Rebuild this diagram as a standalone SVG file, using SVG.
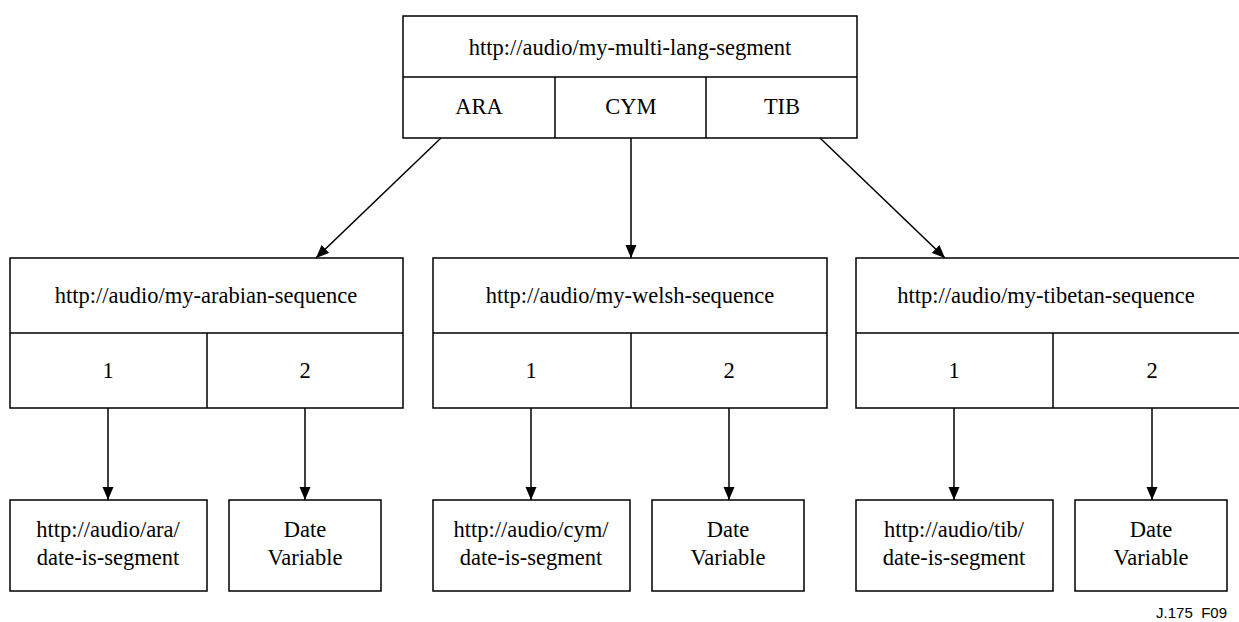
<svg xmlns="http://www.w3.org/2000/svg" width="1239" height="622" viewBox="0 0 1239 622">
<style>
.b{fill:#fff;stroke:#000;stroke-width:1.5}
.l{fill:none;stroke:#000;stroke-width:1.5}
text{font-family:"Liberation Serif","Times New Roman",serif;font-size:22.5px;fill:#000;text-anchor:middle}
.c{stroke:#000;stroke-width:1.5;fill:none;marker-end:url(#ah)}
</style>
<defs>
<marker id="ah" markerWidth="13" markerHeight="12" viewBox="0 0 13 12" refX="13" refY="6" orient="auto" markerUnits="userSpaceOnUse">
<path d="M0,0.5 L13,6 L0,11.5 Z" fill="#000"/>
</marker>
</defs>
<g id="top">
<rect class="b" x="403" y="16" width="454" height="122"/>
<path class="l" d="M403,77H857M555,77V138M706,77V138"/>
<text x="630" y="55">http://audio/my-multi-lang-segment</text>
<text x="479" y="114">ARA</text>
<text x="631" y="114">CYM</text>
<text x="782" y="114">TIB</text>
</g>
<g id="arabian">
<rect class="b" x="10" y="258" width="393" height="150"/>
<path class="l" d="M10,333H403M207,333V408"/>
<text x="206" y="303">http://audio/my-arabian-sequence</text>
<text x="108" y="378">1</text>
<text x="305" y="378">2</text>
</g>
<g id="welsh">
<rect class="b" x="433" y="258" width="394" height="150"/>
<path class="l" d="M433,333H827M631,333V408"/>
<text x="630" y="303">http://audio/my-welsh-sequence</text>
<text x="531" y="378">1</text>
<text x="729" y="378">2</text>
</g>
<g id="tibetan">
<rect class="b" x="856" y="258" width="393" height="150"/>
<path class="l" d="M856,333H1249M1053,333V408"/>
<text x="1046" y="303">http://audio/my-tibetan-sequence</text>
<text x="954" y="378">1</text>
<text x="1152" y="378">2</text>
</g>
<g id="ara-seg">
<rect class="b" x="10" y="500" width="197" height="91"/>
<text x="108" y="537">http://audio/ara/</text>
<text x="108" y="565">date-is-segment</text>
</g>
<g id="ara-date">
<rect class="b" x="229" y="500" width="152" height="91"/>
<text x="305" y="537">Date</text>
<text x="305" y="565">Variable</text>
</g>
<g id="cym-seg">
<rect class="b" x="433" y="500" width="197" height="91"/>
<text x="531" y="537">http://audio/cym/</text>
<text x="531" y="565">date-is-segment</text>
</g>
<g id="cym-date">
<rect class="b" x="652" y="500" width="152" height="91"/>
<text x="728" y="537">Date</text>
<text x="728" y="565">Variable</text>
</g>
<g id="tib-seg">
<rect class="b" x="856" y="500" width="197" height="91"/>
<text x="954" y="537">http://audio/tib/</text>
<text x="954" y="565">date-is-segment</text>
</g>
<g id="tib-date">
<rect class="b" x="1075" y="500" width="152" height="91"/>
<text x="1151" y="537">Date</text>
<text x="1151" y="565">Variable</text>
</g>
<g id="connectors">
<line class="c" x1="441" y1="138" x2="316" y2="258"/>
<line class="c" x1="631" y1="138" x2="631" y2="258"/>
<line class="c" x1="820" y1="138" x2="945" y2="258"/>
<line class="c" x1="108" y1="408" x2="108" y2="500"/>
<line class="c" x1="305" y1="408" x2="305" y2="500"/>
<line class="c" x1="531" y1="408" x2="531" y2="500"/>
<line class="c" x1="729" y1="408" x2="729" y2="500"/>
<line class="c" x1="954" y1="408" x2="954" y2="500"/>
<line class="c" x1="1152" y1="408" x2="1152" y2="500"/>
</g>
<text x="1227" y="618" xml:space="preserve" style="font-family:'Liberation Sans',Arial,sans-serif;font-size:15px;text-anchor:end">J.175  F09</text>
</svg>
